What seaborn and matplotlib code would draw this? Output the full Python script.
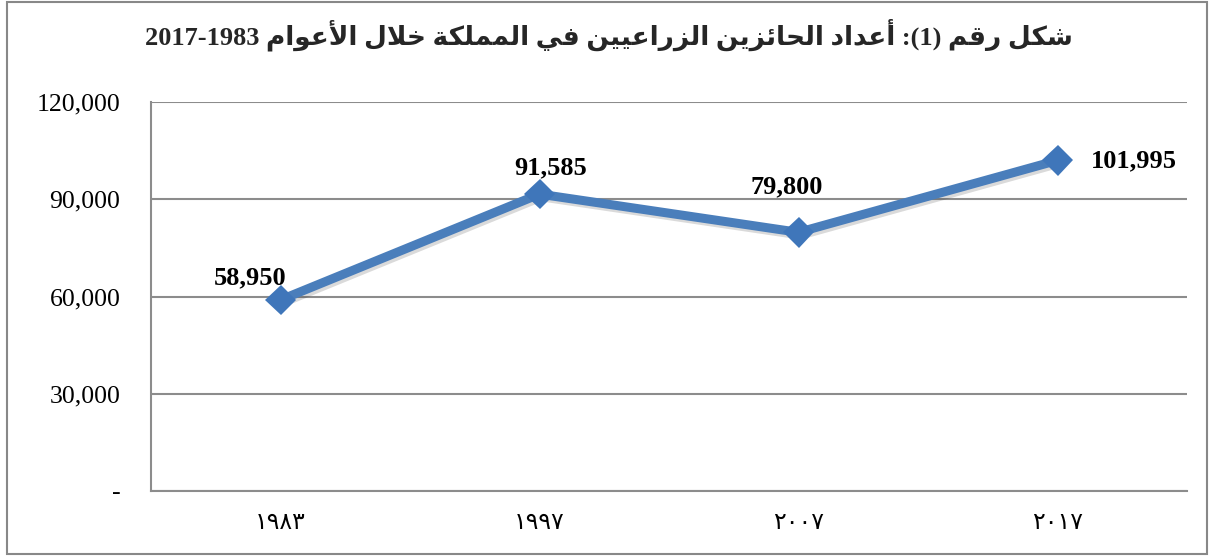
import matplotlib
matplotlib.use("Agg")
import matplotlib.pyplot as plt
import matplotlib.patheffects as pe
from matplotlib.patches import Rectangle
from matplotlib.ticker import FuncFormatter
import seaborn as sns
import pandas as pd

# ---- data ----
years = ["1983", "1997", "2007", "2017"]
year_labels = ["١٩٨٣", "١٩٩٧", "٢٠٠٧", "٢٠١٧"]
holders = [58950, 91585, 79800, 101995]
title_text = "شكل رقم (1): أعداد الحائزين الزراعيين في المملكة خلال الأعوام 1983-2017"

# ---- minimal Arabic shaping + visual ordering (matplotlib has no bidi) ----
FORMS = {
    '\u0627': ('\uFE8D', '\uFE8E', None, None),
    '\u0623': ('\uFE83', '\uFE84', None, None),
    '\u0629': ('\uFE93', '\uFE94', None, None),
    '\u062F': ('\uFEA9', '\uFEAA', None, None),
    '\u0631': ('\uFEAD', '\uFEAE', None, None),
    '\u0632': ('\uFEAF', '\uFEB0', None, None),
    '\u0648': ('\uFEED', '\uFEEE', None, None),
    '\u062D': ('\uFEA1', '\uFEA2', '\uFEA3', '\uFEA4'),
    '\u062E': ('\uFEA5', '\uFEA6', '\uFEA7', '\uFEA8'),
    '\u0634': ('\uFEB5', '\uFEB6', '\uFEB7', '\uFEB8'),
    '\u0639': ('\uFEC9', '\uFECA', '\uFECB', '\uFECC'),
    '\u0641': ('\uFED1', '\uFED2', '\uFED3', '\uFED4'),
    '\u0642': ('\uFED5', '\uFED6', '\uFED7', '\uFED8'),
    '\u0643': ('\uFED9', '\uFEDA', '\uFEDB', '\uFEDC'),
    '\u0644': ('\uFEDD', '\uFEDE', '\uFEDF', '\uFEE0'),
    '\u0645': ('\uFEE1', '\uFEE2', '\uFEE3', '\uFEE4'),
    '\u0646': ('\uFEE5', '\uFEE6', '\uFEE7', '\uFEE8'),
    '\u064A': ('\uFEF1', '\uFEF2', '\uFEF3', '\uFEF4'),
    '\u0626': ('\uFE89', '\uFE8A', '\uFE8B', '\uFE8C'),
}
LAM_ALEF = {'\u0627': ('\uFEFB', '\uFEFC'), '\u0623': ('\uFEF7', '\uFEF8')}


def shape(s):
    toks = []
    i = 0
    while i < len(s):
        c = s[i]
        if c == '\u0644' and i + 1 < len(s) and s[i + 1] in LAM_ALEF:
            toks.append(('LA', s[i + 1]))
            i += 2
        else:
            toks.append((c, None))
            i += 1

    def dual(t):
        return t[0] in FORMS and FORMS[t[0]][2] is not None

    def arabic(t):
        return t[0] == 'LA' or t[0] in FORMS

    out = []
    for k, t in enumerate(toks):
        prev = toks[k - 1] if k > 0 else None
        nxt = toks[k + 1] if k + 1 < len(toks) else None
        jp = prev is not None and dual(prev) and arabic(t)
        if t[0] == 'LA':
            out.append(LAM_ALEF[t[1]][1 if jp else 0])
            continue
        if t[0] not in FORMS:
            out.append(t[0])
            continue
        jn = dual(t) and nxt is not None and arabic(nxt)
        iso, fin, ini, med = FORMS[t[0]]
        out.append(med if (jp and jn) else fin if jp else ini if jn else iso)
    return ''.join(out)


def visual(s):
    r = shape(s)[::-1]
    res, run = [], []
    for ch in r:
        if ch.isdigit() and ord(ch) < 128:
            run.append(ch)
        else:
            if run:
                res.extend(run[::-1]); run = []
            res.append({'(': ')', ')': '('}.get(ch, ch))
    if run:
        res.extend(run[::-1])
    return ''.join(res)


# ---- plot ----
sns.set_theme(style="white")
plt.rcParams['font.family'] = ['Liberation Serif', 'DejaVu Sans']

W, H = 1214, 556
fig = plt.figure(figsize=(W / 100, H / 100), dpi=100)
ax = fig.add_axes([151 / W, 1 - 491 / H, (1187 - 151) / W, (491 - 102) / H])

df = pd.DataFrame({"year": years, "holders": holders})
line_color = "#4A7EBB"
sns.lineplot(data=df, x="year", y="holders", ax=ax, color=line_color,
             linewidth=6.5, marker="D", markersize=15.5, markeredgewidth=0,
             markerfacecolor="#3F76BA", sort=False,
             path_effects=[pe.SimpleLineShadow(offset=(1.5, -2), alpha=0.18, shadow_color="#333333"),
                           pe.Normal()])

ax.set_xlim(-0.5, len(years) - 0.5)
ax.set_ylim(0, 120000)
ax.set_yticks([0, 30000, 60000, 90000, 120000])
ax.yaxis.set_major_formatter(FuncFormatter(lambda v, p: "-" if v == 0 else f"{int(v):,}"))
ax.set_xticks(range(len(years)))
ax.set_xticklabels(year_labels, fontsize=17, family=['DejaVu Sans'])
ax.set_xlabel("")
ax.set_ylabel("")

grid_col = "#8C8C8C"
ax.grid(axis="y", color=grid_col, linewidth=1.5)
ax.grid(axis="x", visible=False)
ax.set_axisbelow(True)
for side in ["top", "right"]:
    ax.spines[side].set_visible(False)
for side in ["left", "bottom"]:
    ax.spines[side].set_color(grid_col)
    ax.spines[side].set_linewidth(1.5)
ax.tick_params(axis="y", length=0, pad=22, labelsize=18.5, labelcolor="black")
ax.tick_params(axis="x", length=0, pad=14, labelcolor="black")
for t in ax.get_yticklabels():
    t.set_family(['Liberation Serif'])

# data labels (offsets in points)
offsets = [(-22, 16), (8, 19), (-8.5, 33), (55, 0)]
for i, (v, off) in enumerate(zip(holders, offsets)):
    ax.annotate(f"{v:,}", xy=(i, v), xytext=off, textcoords="offset points",
                ha="center", va="center", fontsize=19, fontweight="bold",
                family=['Liberation Serif'], color="black")

# title
fig.text(0.502, 1 - 35 / H, visual(title_text), ha="center", va="center",
         fontsize=19, fontweight="bold", family=['Liberation Serif', 'DejaVu Sans'])

# chart border
fig.patches.append(Rectangle((7 / W, 2 / H), 1200 / W, 552 / H, transform=fig.transFigure,
                             fill=False, edgecolor="#888888", linewidth=1.5))

fig.savefig("out.png", dpi=100, facecolor="white")
